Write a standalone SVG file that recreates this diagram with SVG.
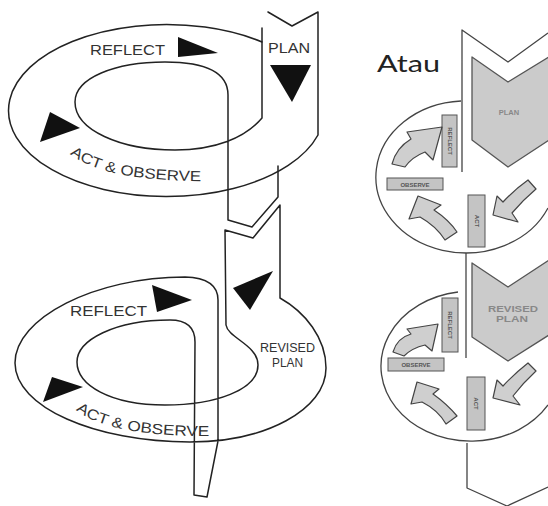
<svg xmlns="http://www.w3.org/2000/svg" width="548" height="506" viewBox="0 0 548 506">
<style>
.ln{fill:none;stroke:#222;stroke-width:1.5;stroke-linejoin:round;stroke-linecap:round}
.rl{fill:none;stroke:#444;stroke-width:1.3;stroke-linejoin:round}
.tri{fill:#111}
.lbl{font-family:"Liberation Sans",Arial,sans-serif;fill:#333}
.chev{fill:#cbcbcb;stroke:#555;stroke-width:1.3;stroke-linejoin:round}
.box{fill:#c4c4c4;stroke:#555;stroke-width:1}
.bt{font-family:"Liberation Sans",Arial,sans-serif;font-size:6px;fill:#555;font-weight:bold}
.ct{font-family:"Liberation Sans",Arial,sans-serif;font-weight:bold;fill:#888}
.ga{fill:#cfcfcf;stroke:#444;stroke-width:1.2;stroke-linejoin:round}
</style>
<defs>
<path id="tp1" d="M70,154 Q105,182 212,181"/>
<path id="tp2" d="M76,410 Q110,437 214,436"/>
</defs>
<rect width="548" height="506" fill="#fff"/>
<g id="spiral-top">
<path class="ln" d="M262,42 A158,86 0 1 0 318,135 L318,12 L292,26 L268,12"/>
<path class="ln" d="M262,28 L262,118 C245,138 215,150 175,150 C120,150 75,130 75,102 C75,78 115,62 165,62 C205,62 228,72 228,95 L228,220 L252,227 L278,197 L278,166"/>
<text class="lbl" x="90" y="55" font-size="15" textLength="75" lengthAdjust="spacingAndGlyphs">REFLECT</text>
<text class="lbl" x="268" y="53" font-size="14" textLength="42" lengthAdjust="spacingAndGlyphs">PLAN</text>
<text class="lbl" font-size="14.5"><textPath href="#tp1" textLength="136" lengthAdjust="spacingAndGlyphs">ACT &amp; OBSERVE</textPath></text>
</g>
<g id="spiral-bottom">
<path class="ln" d="M225,230 L253,238 L280,205 L280,298 C305,312 326,338 326,368 C326,410 265,442 190,442 C95,442 15,407 15,363 C15,318 95,277 185,277 Q218,278 218,300 L218,441 L207,497 L194,495 L195,342 C195,328 188,320 170,320 C115,320 77,340 77,362 C77,385 110,405 165,405 C215,405 258,390 258,365 C258,345 228,338 226,325 L225,230"/>
<text class="lbl" x="70" y="316" font-size="15" textLength="77" lengthAdjust="spacingAndGlyphs">REFLECT</text>
<text class="lbl" font-size="14.5"><textPath href="#tp2" textLength="138" lengthAdjust="spacingAndGlyphs">ACT &amp; OBSERVE</textPath></text>
<text class="lbl" x="260" y="352" font-size="12" textLength="55" lengthAdjust="spacingAndGlyphs">REVISED</text>
<text class="lbl" x="272" y="367" font-size="12" textLength="31" lengthAdjust="spacingAndGlyphs">PLAN</text>
</g>
<g id="atau">
<text x="377" y="72" font-family="Lato, 'Open Sans', sans-serif" font-size="24" fill="#222" textLength="63" lengthAdjust="spacingAndGlyphs">Atau</text>
<path class="rl" d="M462,172 L462,30 L508,62 L548,33"/>
<path class="rl" d="M466,253 L466,358"/>
<path class="rl" d="M467,443 L467,488 L507,506 L548,487"/>
<path class="rl" d="M461,101 A90,76 0 1 0 548,208"/>
<path class="rl" d="M458,292 A90,75 0 1 0 548,405"/>
</g>
<g id="plan-right">
<path class="chev" d="M472,57 L508,82 L549,57 L549,140 L508,167 L472,140 Z"/>
<text class="ct" x="509" y="115" font-size="7.5" text-anchor="middle">PLAN</text>
</g>
<g id="revised-plan-right">
<path class="chev" d="M472,263 L508,287 L549,260 L549,335 L508,361 L472,337 Z"/>
<text class="ct" x="513" y="312" font-size="9" text-anchor="middle" textLength="50" lengthAdjust="spacingAndGlyphs">REVISED</text>
<text class="ct" x="512" y="322" font-size="9" text-anchor="middle" textLength="32" lengthAdjust="spacingAndGlyphs">PLAN</text>
</g>
<g id="boxes-top">
<rect class="box" x="442" y="115" width="15" height="52"/>
<text class="bt" transform="translate(447.5,141) rotate(90)" text-anchor="middle">REFLECT</text>
<rect class="box" x="387" y="178" width="56" height="12"/>
<text class="bt" x="415" y="186.5" text-anchor="middle">OBSERVE</text>
<rect class="box" x="468" y="195" width="17" height="52"/>
<text class="bt" transform="translate(474.5,221) rotate(90)" text-anchor="middle">ACT</text>
</g>
<g id="boxes-bottom">
<rect class="box" x="442" y="298" width="16" height="54"/>
<text class="bt" transform="translate(448,325) rotate(90)" text-anchor="middle">REFLECT</text>
<rect class="box" x="388" y="358" width="56" height="13"/>
<text class="bt" x="416" y="367" text-anchor="middle">OBSERVE</text>
<rect class="box" x="467" y="377" width="18" height="53"/>
<text class="bt" transform="translate(474,403.5) rotate(90)" text-anchor="middle">ACT</text>
</g>
<g id="connectors">
<polygon class="tri" points="178,37 218,53 178,57"/>
<polygon class="tri" points="50,112 80,128 40,142"/>
<polygon class="tri" points="270,65 311,65 292,102"/>
<polygon class="tri" points="152,285 192,300 157,312"/>
<polygon class="tri" points="52,377 83,387 43,402"/>
<polygon class="tri" points="233,288 273,271 250,310"/>
<path class="ga" d="M392,164 Q396,148 411,139 L407,132 L442,127 L433,160 L425,152 Q412,157 405,167 Z"/>
<path class="ga" d="M418,196 L441,205 L434,210 Q449,220 457,232 L445,240 Q436,226 420,217 L409,219 Z"/>
<path class="ga" d="M493,215 L497,196 L503,202 Q514,190 528,180 L536,189 Q523,200 512,213 L518,222 Z"/>
<path class="ga" d="M393,352 Q397,338 411,334 L407,329 L438,324 L432,351 L425,345 Q412,348 404,356 Z"/>
<path class="ga" d="M417,382 L439,389 L433,394 Q447,404 457,416 L446,424 Q438,410 422,402 L411,404 Z"/>
<path class="ga" d="M493,398 L497,380 L503,386 Q514,374 528,363 L536,371 Q523,383 513,396 L520,405 Z"/>
</g>
</svg>
